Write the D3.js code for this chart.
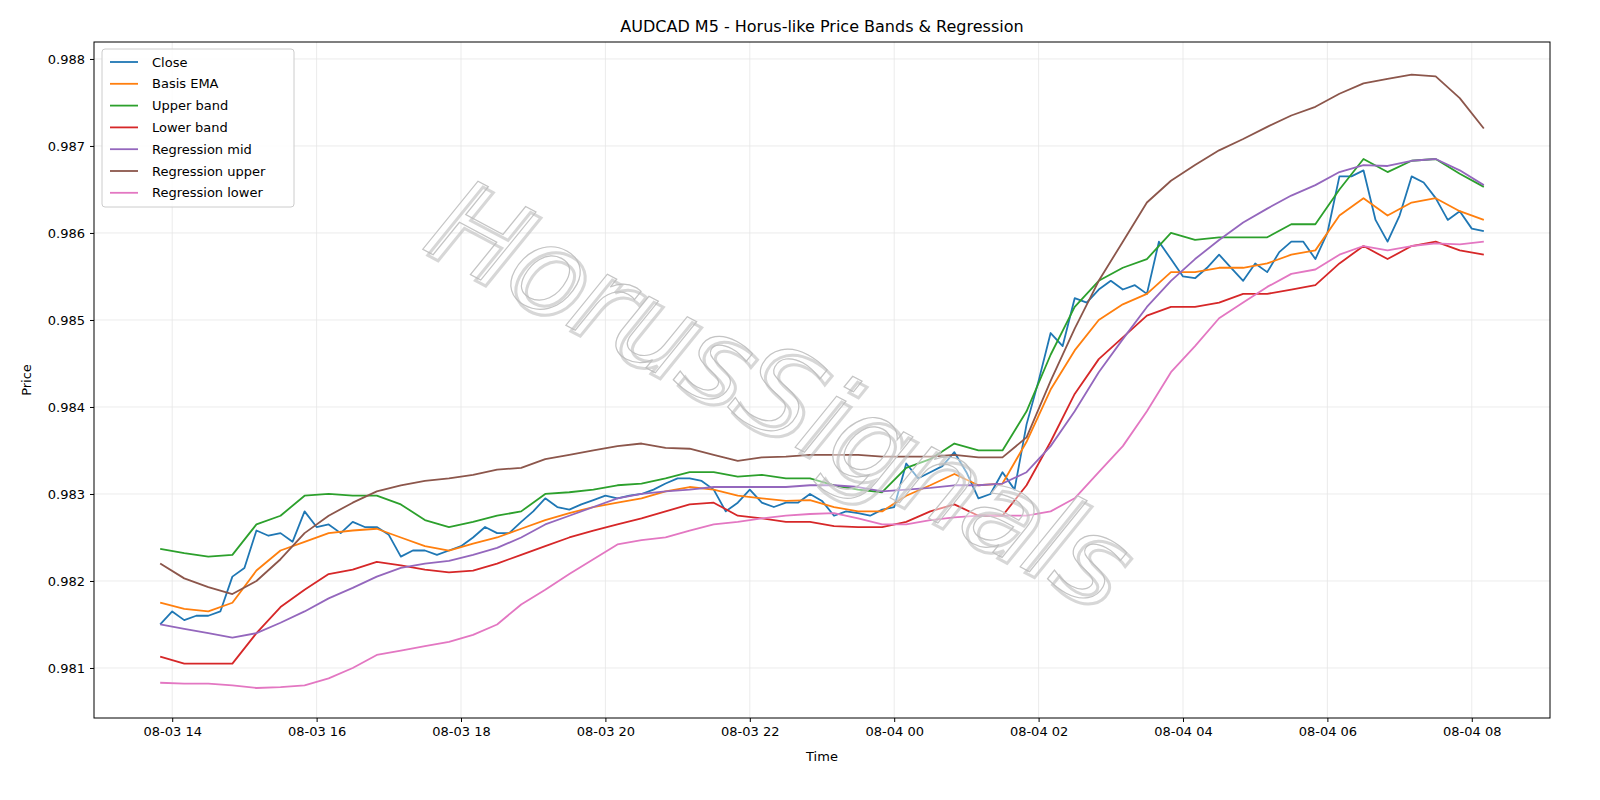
<!DOCTYPE html><html><head><meta charset="utf-8">
<script src="https://cdn.jsdelivr.net/npm/d3@7"></script>
<style>body{margin:0;background:#fff}text{font-family:"DejaVu Sans",sans-serif}</style></head><body>
<svg id="c" width="1600" height="800"></svg>
<script>
const closeVals=[.98150,.98165,.98155,.98160,.98160,.98165,.98205,.98215,.98258,.98252,.98255,.98245,.98280,.98262,.98265,.98255,.98268,.98262,.98262,.98253,.98228,.98235,.98235,.98230,.98235,.98240,.98250,.98262,.98255,.98255,.98268,.98280,.98295,.98285,.98282,.98288,.98293,.98298,.98295,.98298,.98300,.98305,.98312,.98318,.98318,.98315,.98305,.98280,.98290,.98305,.98290,.98285,.98290,.98290,.98300,.98292,.98275,.98280,.98278,.98275,.98282,.98285,.98335,.98318,.98325,.98332,.98348,.98325,.98295,.98300,.98325,.98305,.98380,.98430,.98485,.98470,.98525,.98520,.98535,.98545,.98535,.98540,.98530,.98590,.98570,.98550,.98548,.98560,.98575,.98560,.98545,.98565,.98555,.98578,.98590,.98590,.98570,.98600,.98665,.98665,.98672,.98615,.98590,.98620,.98665,.98658,.98640,.98615,.98625,.98605,.98602];
const basisEMA=[.98175,.98168,.98165,.98175,.98212,.98235,.98245,.98255,.98258,.98260,.98250,.98240,.98235,.98243,.98250,.98260,.98270,.98278,.98285,.98290,.98295,.98303,.98308,.98305,.98298,.98295,.98292,.98293,.98285,.98280,.98280,.98298,.98310,.98323,.98310,.98312,.98360,.98420,.98465,.98500,.98518,.98530,.98555,.98555,.98560,.98560,.98565,.98575,.98580,.98620,.98640,.98620,.98635,.98640,.98625,.98615];
const upperBand=[.98237,.98232,.98228,.98230,.98265,.98275,.98298,.98300,.98298,.98298,.98288,.98270,.98262,.98268,.98275,.98280,.98300,.98302,.98305,.98310,.98312,.98318,.98325,.98325,.98320,.98322,.98318,.98318,.98310,.98305,.98302,.98330,.98340,.98358,.98350,.98350,.98395,.98460,.98515,.98545,.98560,.98570,.98600,.98592,.98595,.98595,.98595,.98610,.98610,.98650,.98685,.98670,.98683,.98685,.98668,.98653];
const lowerBand=[.98113,.98105,.98105,.98105,.98140,.98170,.98190,.98208,.98213,.98222,.98218,.98213,.98210,.98212,.98220,.98230,.98240,.98250,.98258,.98265,.98272,.98280,.98288,.98290,.98275,.98272,.98268,.98268,.98263,.98262,.98262,.98268,.98280,.98288,.98275,.98275,.98310,.98360,.98415,.98455,.98480,.98505,.98515,.98515,.98520,.98530,.98530,.98535,.98540,.98565,.98585,.98570,.98585,.98590,.98580,.98575];
const regMid=[.98150,.98145,.98140,.98135,.98140,.98152,.98165,.98180,.98192,.98205,.98215,.98220,.98223,.98230,.98238,.98250,.98265,.98275,.98285,.98295,.98300,.98303,.98305,.98308,.98308,.98308,.98308,.98310,.98310,.98308,.98303,.98305,.98307,.98310,.98310,.98312,.98325,.98355,.98395,.98440,.98478,.98515,.98545,.98570,.98592,.98612,.98628,.98643,.98655,.98670,.98678,.98677,.98683,.98685,.98672,.98655];
const regUpper=[.98220,.98203,.98193,.98185,.98200,.98225,.98255,.98275,.98290,.98303,.98310,.98315,.98318,.98322,.98328,.98330,.98340,.98345,.98350,.98355,.98358,.98353,.98352,.98345,.98338,.98342,.98343,.98345,.98345,.98345,.98343,.98343,.98343,.98345,.98342,.98342,.98365,.98430,.98490,.98545,.98590,.98635,.98660,.98678,.98695,.98708,.98722,.98735,.98745,.98760,.98772,.98777,.98782,.98780,.98755,.98720];
const regLower=[.98083,.98082,.98082,.98080,.98077,.98078,.98080,.98088,.98100,.98115,.98120,.98125,.98130,.98138,.98150,.98173,.98190,.98208,.98225,.98242,.98247,.98250,.98258,.98265,.98268,.98272,.98275,.98277,.98278,.98272,.98265,.98265,.98270,.98273,.98275,.98275,.98275,.98280,.98295,.98325,.98355,.98395,.98440,.98470,.98502,.98520,.98538,.98553,.98558,.98575,.98585,.98580,.98585,.98588,.98587,.98590];
const yTicks=[0.981,0.982,0.983,0.984,0.985,0.986,0.987,0.988];
const start=Date.UTC(2025,7,3,13,50);
const seriesDefs=[["Close",closeVals,10,"#1f77b4"],["Basis EMA",basisEMA,20,"#ff7f0e"],["Upper band",upperBand,20,"#2ca02c"],["Lower band",lowerBand,20,"#d62728"],["Regression mid",regMid,20,"#9467bd"],["Regression upper",regUpper,20,"#8c564b"],["Regression lower",regLower,20,"#e377c2"]];
const svg=d3.select("#c");
const L=94,R=1550,T=42,B=718;
const x=d3.scaleUtc().domain([new Date(start-55*60000),new Date(start+1155*60000)]).range([L,R]);
const y=d3.scaleLinear().domain([0.980425,0.988195]).range([B,T]);
const xt=d3.range(0,10).map(i=>new Date(Date.UTC(2025,7,3,14+2*i)));
const g=svg.append("g");
g.selectAll(".gx").data(xt).join("line").attr("x1",d=>x(d)).attr("x2",d=>x(d)).attr("y1",T).attr("y2",B).attr("stroke","#e6e6e6").attr("stroke-width",0.8);
g.selectAll(".gy").data(yTicks).join("line").attr("y1",d=>y(d)).attr("y2",d=>y(d)).attr("x1",L).attr("x2",R).attr("stroke","#e6e6e6").attr("stroke-width",0.8);
const line=d3.line().x(d=>x(d[0])).y(d=>y(d[1]));
seriesDefs.forEach(([n,v,step,c])=>{
  const pts=v.map((val,i)=>[new Date(start+i*step*60000),val]);
  svg.append("path").datum(pts).attr("d",line).attr("fill","none").attr("stroke",c).attr("stroke-width",1.8).attr("stroke-linejoin","round");
});
// watermark
const wm=svg.append("text").attr("transform","translate(775,400) rotate(28)").attr("text-anchor","middle").attr("dominant-baseline","middle").attr("font-size",118).attr("font-style","italic").attr("font-family","DejaVu Sans");
wm.clone().attr("transform","translate(780,406) rotate(28)").attr("fill","none").attr("stroke","#bdbdbd").attr("stroke-width",3).attr("opacity",0.6).text("HorusSignals");
wm.attr("fill","rgba(255,255,255,0.45)").attr("stroke","#c4c4c4").attr("stroke-width",1.2).text("HorusSignals");
svg.append("rect").attr("x",L).attr("y",T).attr("width",R-L).attr("height",B-T).attr("fill","none").attr("stroke","#000").attr("stroke-width",1);
const ax=svg.append("g").attr("transform",`translate(0,${B})`).call(d3.axisBottom(x).tickValues(xt).tickFormat(d3.utcFormat("%m-%d %H")).tickSizeOuter(0).tickSize(4).tickPadding(5));
const ay=svg.append("g").attr("transform",`translate(${L},0)`).call(d3.axisLeft(y).tickValues(yTicks).tickFormat(d3.format(".3f")).tickSizeOuter(0).tickSize(4).tickPadding(5));
[ax,ay].forEach(a=>{a.select(".domain").remove();a.selectAll("text").attr("font-size",13).attr("fill","#000");a.selectAll("line").attr("stroke","#000");});
svg.append("text").attr("x",822).attr("y",32).attr("text-anchor","middle").attr("font-size",16).text("AUDCAD M5 - Horus-like Price Bands & Regression");
svg.append("text").attr("x",822).attr("y",761).attr("text-anchor","middle").attr("font-size",13).text("Time");
svg.append("text").attr("transform","translate(31,380) rotate(-90)").attr("text-anchor","middle").attr("font-size",13).text("Price");
const lg=svg.append("g").attr("transform","translate(102,49)");
lg.append("rect").attr("width",192).attr("height",158).attr("rx",3).attr("fill","rgba(255,255,255,0.85)").attr("stroke","#ccc");
seriesDefs.forEach(([n,,,c],i)=>{
  const yy=13+i*21.8;
  lg.append("line").attr("x1",8).attr("x2",36).attr("y1",yy).attr("y2",yy).attr("stroke",c).attr("stroke-width",1.8);
  lg.append("text").attr("x",50).attr("y",yy+4.5).attr("font-size",13).text(n);
});
</script></body></html>
